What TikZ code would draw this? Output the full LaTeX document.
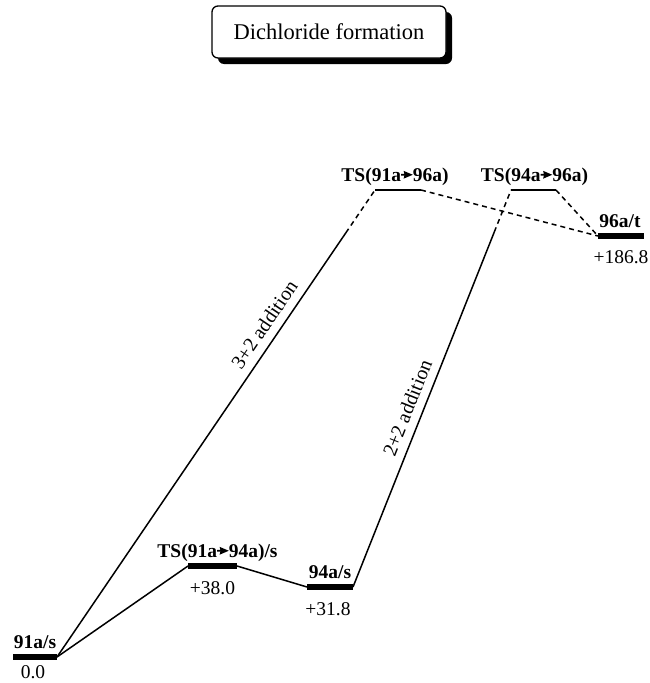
\documentclass[tikz,border=0pt]{standalone}
\usepackage{fontspec}
\setmainfont{Liberation Serif}
\usetikzlibrary{calc}

% small pointer used between species names in transition-state labels
\newcommand{\tsarrow}{\tikz[baseline=0pt,x=1em,y=1em]{%
  \fill (0.0,0.28) -- (0.17,0.28) -- (0.13,0.12) -- (0.6,0.32)
        -- (0.13,0.52) -- (0.17,0.36) -- (0.0,0.36) -- cycle;}}

\tikzset{
  levelbar/.style={line width=6pt},
  tsline/.style={line width=1.8pt},
  conn/.style={line width=1.5pt},
  dconn/.style={line width=1.5pt, dash pattern=on 5pt off 4pt},
  species/.style={font=\fontsize{19.5}{22}\selectfont\bfseries, anchor=base, inner sep=0pt},
  energy/.style={font=\fontsize{19.5}{22}\selectfont, anchor=base, inner sep=0pt},
  pathlabel/.style={font=\fontsize{20}{22}\selectfont, sloped, above=6pt, inner sep=2pt},
  titlebox/.style={draw, line width=1.3pt, rounded corners=6pt, fill=white,
    minimum width=234pt, minimum height=52pt, font=\fontsize{22.5}{26}\selectfont}
}

\begin{document}
\begin{tikzpicture}[x=1pt, y=-1pt]
  \useasboundingbox (0,0) rectangle (649,683);

  % title with drop shadow
  \fill[rounded corners=6pt] (218,12) rectangle (452,64);
  \node[titlebox] (title) at (329,32) {Dichloride formation};

  % level end points
  \coordinate (r91l) at (13,657);   \coordinate (r91r) at (57,657);
  \coordinate (t194l) at (188,566); \coordinate (t194r) at (237,566);
  \coordinate (r94l) at (307,587);  \coordinate (r94r) at (353,587);
  \coordinate (t196l) at (375,190); \coordinate (t196r) at (421,190);
  \coordinate (t496l) at (511,190); \coordinate (t496r) at (556,190);
  \coordinate (r96l) at (598,236);  \coordinate (r96r) at (644,236);

  % points where the rising paths turn dashed
  \coordinate (brk1) at ($(r91r)!0.908!(t196l)$);
  \coordinate (brk2) at ($(r94r)!0.894!(t496l)$);

  % energy levels
  \draw[levelbar] (r91l) -- (r91r);
  \draw[levelbar] (t194l) -- (t194r);
  \draw[levelbar] (r94l) -- (r94r);
  \draw[tsline] (t196l) -- (t196r);
  \draw[tsline] (t496l) -- (t496r);
  \draw[levelbar] (r96l) -- (r96r);

  % species labels
  \node[species] (n91) at ($(r91l)!0.5!(r91r)+(0,-9)$) {91a/s};
  \node[species] (n194) at ($(t194l)!0.5!(t194r)+(5,-9)$) {TS(91a\tsarrow94a)/s};
  \node[species] (n94) at ($(r94l)!0.5!(r94r)+(0,-9)$) {94a/s};
  \node[species] (n196) at ($(t196l)!0.5!(t196r)+(-3,-9)$) {TS(91a\tsarrow96a)};
  \node[species] (n496) at ($(t496l)!0.5!(t496r)+(1,-9)$) {TS(94a\tsarrow96a)};
  \node[species] (n96) at ($(r96l)!0.5!(r96r)+(-1,-9)$) {96a/t};

  % relative energies
  \node[energy] (e91) at ($(r91l)!0.5!(r91r)+(-2,21)$) {0.0};
  \node[energy] (e194) at ($(t194l)!0.5!(t194r)+(0,28)$) {+38.0};
  \node[energy] (e94) at ($(r94l)!0.5!(r94r)+(-2,28)$) {+31.8};
  \node[energy] (e96) at ($(r96l)!0.5!(r96r)+(0,27)$) {+186.8};

  % reaction paths
  \draw[conn] (r91r) -- (t194l);
  \draw[conn] (t194r) -- (r94l);
  \draw[conn] (r91r) -- node[pathlabel, pos=0.763] (l32) {3+2 addition} (brk1);
  \draw[dconn] (brk1) -- (t196l);
  \draw[conn] (r94r) -- node[pathlabel, pos=0.488] (l22) {2+2 addition} (brk2);
  \draw[dconn] (brk2) -- (t496l);
  \draw[dconn] (t196r) -- (r96l);
  \draw[dconn] (t496r) -- (r96l);
\end{tikzpicture}
\end{document}
